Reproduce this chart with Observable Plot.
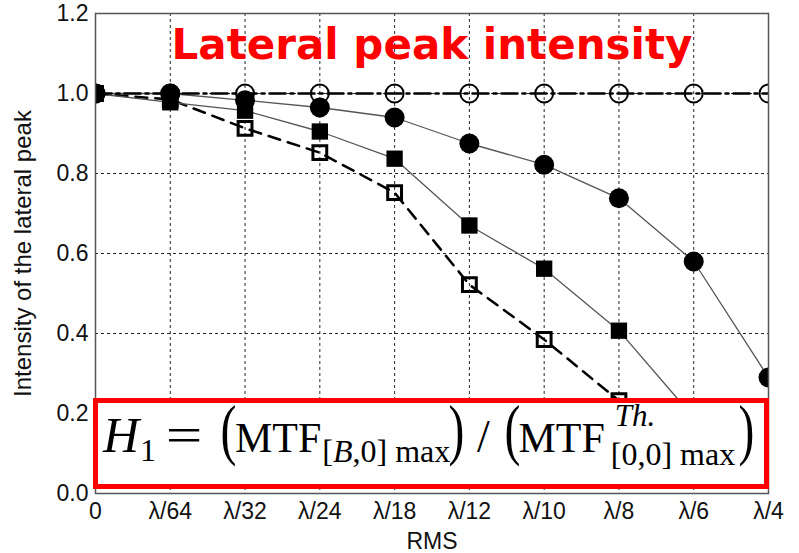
<!DOCTYPE html>
<html>
<head>
<meta charset="utf-8">
<script src="https://cdn.jsdelivr.net/npm/d3@7"></script>
<script src="https://cdn.jsdelivr.net/npm/@observablehq/plot@0.6"></script>
<style>
  html, body { margin: 0; padding: 0; background: #fff; }
  #wrap { position: relative; width: 799px; height: 553px; }
  #formula {
    position: absolute; left: 93px; top: 398px; width: 676px; height: 91px;
    box-sizing: border-box; border: 5px solid #ff0000; background: #fff;
    font-family: "Liberation Serif", "DejaVu Serif", serif; color: #000;
    white-space: nowrap;
  }
  #formula .line { position: absolute; left: 5px; top: -1px; font-size: 42px; line-height: 1;
    display: flex; align-items: baseline; }
  #formula span { display: inline-block; }
  #formula .H { font-style: italic; font-size: 50px; }
  #formula .sub1 { font-size: 32px; position: relative; top: 9px; margin-left: 1px; }
  #formula .eq { font-size: 50px; transform: scaleX(1.3); margin: 0 24px 0 14px; }
  #formula .paren { font-size: 68px; line-height: 0.8; transform: scaleX(0.7); margin: 0 -5px; }
  #formula .sub { font-size: 32px; position: relative; top: 10px; margin-left: 1px; }
  #formula .slash { font-size: 46px; margin: 0 16px 0 14px; }
  #formula .stack { position: relative; font-size: 32px; top: 13px; margin-left: 6px; }
  #formula .stack .sup { position: absolute; left: 4px; top: -38px; font-style: italic; font-size: 31px; }
  #formula .last { margin-left: 0; }
</style>
</head>
<body>
<div id="wrap"></div>
<script>
// RMS wavefront error levels along the x axis (equally spaced categories)
const rmsLabels = ["0", "λ/64", "λ/32", "λ/24", "λ/18", "λ/12", "λ/10", "λ/8", "λ/6", "λ/4"];
const yTicks = [0, 0.2, 0.4, 0.6, 0.8, 1.0, 1.2];

// Lateral peak intensity for each configuration
const openCircles   = [1.0, 1.0, 1.0, 1.0, 1.0, 1.0, 1.0, 1.0, 1.0, 1.0];
const filledCircles = [1.0, 1.0, 0.983, 0.965, 0.94, 0.875, 0.822, 0.738, 0.58, 0.29];
const filledSquares = [1.0, 0.978, 0.957, 0.905, 0.837, 0.67, 0.562, 0.407, 0.19, 0.08];
const openSquares   = [1.0, 0.985, 0.913, 0.852, 0.752, 0.522, 0.385, 0.232, 0.1, 0.04];

const toRows = (vals) => vals.map((v, i) => ({i, v}));
const oc = toRows(openCircles), fc = toRows(filledCircles),
      fs = toRows(filledSquares), os = toRows(openSquares);
const idx = rmsLabels.map((_, i) => i);

const chart = Plot.plot({
  width: 799,
  height: 553,
  marginLeft: 95,
  marginRight: 31,
  marginTop: 13,
  marginBottom: 60,
  style: {fontFamily: "Liberation Sans, Arial, sans-serif", fontSize: "23px", color: "#111", background: "#fff"},
  x: {domain: [0, 9]},
  y: {domain: [0, 1.2]},
  marks: [
    Plot.gridX(idx, {stroke: "#000", strokeOpacity: 0.85, strokeDasharray: "3,3"}),
    Plot.gridY(yTicks, {stroke: "#000", strokeOpacity: 0.85, strokeDasharray: "3,3"}),
    Plot.axisX(idx, {tickSize: 0, tickPadding: 9, tickFormat: (i) => rmsLabels[i], fontSize: 23,
      label: "RMS", labelAnchor: "center", labelArrow: "none", labelOffset: 55}),
    Plot.axisY(yTicks, {tickSize: 0, tickPadding: 7, tickFormat: d3.format(".1f"), fontSize: 23,
      label: null}),
    Plot.axisY({tickSize: 0, ticks: [], label: "Intensity of the lateral peak", labelAnchor: "center",
      labelArrow: "none", labelOffset: 82, fontSize: 24}),

    // open squares, dashed
    Plot.line(os, {x: "i", y: "v", stroke: "#000", strokeWidth: 2.5, strokeDasharray: "12,8", clip: true}),
    Plot.dot(os, {x: "i", y: "v", symbol: "square", r: 7.8, stroke: "#000", strokeWidth: 3, fill: "none", clip: true}),
    // filled squares, thin solid
    Plot.line(fs, {x: "i", y: "v", stroke: "#555", strokeWidth: 1.3, clip: true}),
    Plot.dot(fs, {x: "i", y: "v", symbol: "square", r: 9.2, fill: "#000", stroke: "none", clip: true}),
    // filled circles, thin solid
    Plot.line(fc, {x: "i", y: "v", stroke: "#555", strokeWidth: 1.3, clip: true}),
    Plot.dot(fc, {x: "i", y: "v", r: 10, fill: "#000", stroke: "none", clip: true}),
    // open circles, dash-dot
    Plot.dot(oc, {x: "i", y: "v", r: 9, stroke: "#000", strokeWidth: 2, fill: "none", clip: true}),
    Plot.line(oc, {x: "i", y: "v", stroke: "#000", strokeWidth: 2.5, strokeDasharray: "16,5,3,5", clip: true}),

    Plot.frame({stroke: "#555", strokeWidth: 1.5}),
    Plot.text(["Lateral peak intensity"], {frameAnchor: "top", dy: 32, lineAnchor: "middle",
      fill: "#ff0000", fontSize: 42, fontWeight: "bold", fontFamily: "DejaVu Sans"})
  ]
});

const wrap = document.getElementById("wrap");
wrap.appendChild(chart);

// Formula box drawn over the lower part of the plot
const box = document.createElement("div");
box.id = "formula";
box.innerHTML =
  '<div class="line">' +
  '<span class="H">H</span><span class="sub1">1</span>' +
  '<span class="eq">=</span>' +
  '<span class="paren">(</span>MTF<span class="sub">[<i>B</i>,0] max</span>' +
  '<span class="paren">)</span><span class="slash">/</span><span class="paren">(</span>MTF' +
  '<span class="stack"><span class="sup">Th.</span>[0,0] max</span>' +
  '<span class="paren last">)</span>' +
  '</div>';
wrap.appendChild(box);
</script>
</body>
</html>
